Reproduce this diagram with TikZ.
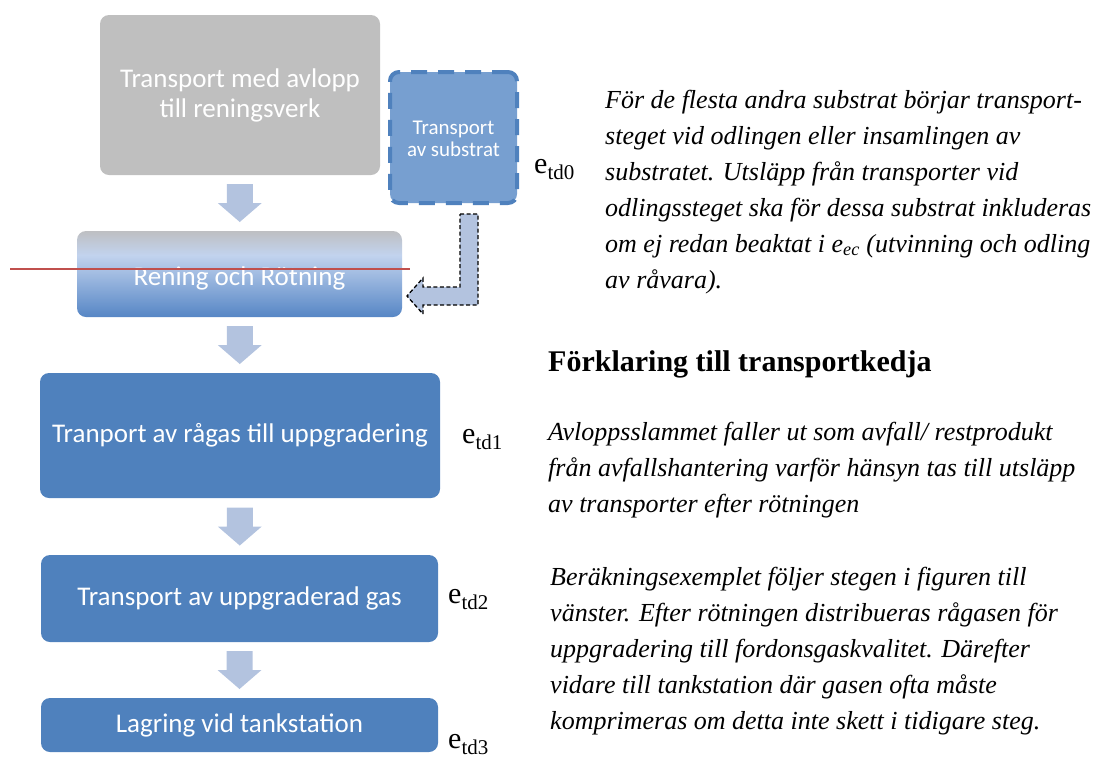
\documentclass[tikz,border=0pt]{standalone}
\usepackage{fontspec}
\setmainfont{Liberation Serif}
\newfontfamily\boxfont{Carlito}
\usetikzlibrary{calc}
\definecolor{graybox}{HTML}{BFBFBF}
\definecolor{mainblue}{HTML}{4F81BD}
\definecolor{subfill}{HTML}{779FD0}
\definecolor{arrowblue}{HTML}{B3C3DF}
\definecolor{redline}{HTML}{C0504D}
\definecolor{rb}{HTML}{5686C5}
\definecolor{rl}{HTML}{C2D3EE}
\definecolor{rg}{HTML}{BEBFC2}
\pgfdeclareverticalshading{reningshade}{100bp}{color(0bp)=(rb); color(25bp)=(rb); color(61bp)=(rl); color(75bp)=(rg); color(100bp)=(rg)}
\tikzset{
  stepbox/.style={rectangle, rounded corners=9pt, inner sep=0pt, align=center, text=white,
    font=\boxfont\fontsize{27}{30}\selectfont},
  elabel/.style={anchor=west, inner sep=0pt, font=\fontsize{30}{30}\selectfont},
  para/.style={anchor=base west, inner sep=0pt,
    font=\itshape\fontsize{26}{36}\selectfont},
  pics/blockdown/.style={code={
    \fill[arrowblue] (-13,-19) -- (13,-19) -- (13,0) -- (22,0) -- (0,19) -- (-22,0) -- (-13,0) -- cycle;}}
}
\begin{document}
\begin{tikzpicture}[x=1pt, y=-1pt]
\useasboundingbox (0,0) rectangle (1094,761);
% boxes
\node[stepbox, fill=graybox, minimum width=280, minimum height=160] (g) at (240,95)
  {Transport med avlopp\\till reningsverk};
\node[stepbox, fill=subfill, draw=mainblue, line width=4pt, dash pattern=on 16pt off 11pt,
  minimum width=127, minimum height=131, font=\boxfont\fontsize{21}{23}\selectfont] (s) at (453.5,137.5)
  {\raisebox{-3pt}[\height][\depth]{\begin{tabular}{@{}c@{}}Transport\\[-1pt]av substrat\end{tabular}}};
\node[stepbox, shade, shading=reningshade, minimum width=325, minimum height=86] (r) at (239.5,274)
  {\raisebox{-4pt}[\height][\depth]{Rening och Rötning}};
\node[stepbox, fill=mainblue, minimum width=400, minimum height=125] (t1) at (240,435.5)
  {Tranport av rågas till uppgradering};
\node[stepbox, fill=mainblue, minimum width=397, minimum height=87] (t2) at (239.5,598.5)
  {Transport av uppgraderad gas};
\node[stepbox, fill=mainblue, minimum width=397, minimum height=54] (t3) at (239.5,725)
  {Lagring vid tankstation};
% red line
\coordinate (rl0) at (10,269);
\coordinate (rl1) at (410,269);
\draw[redline, line width=2pt] (rl0) -- (rl1);
% down arrows
\pic at ($(g.south)!0.5!(r.north)$) {blockdown};
\pic at ($(r.south)!0.5!(t1.north)$) {blockdown};
\pic at ($(t1.south)!0.5!(t2.north)$) {blockdown};
\pic at ($(t2.south)!0.5!(t3.north)$) {blockdown};
% bent arrow from substrate box to Rening
\draw[black, fill=arrowblue, line width=1.3pt, dash pattern=on 4pt off 2.5pt]
  (460,214) -- (478,214) -- (478,305) -- (423,305) -- (423,314) -- (407,296)
  -- (423,278) -- (423,287) -- (460,287) -- cycle;
% e labels
\node[elabel] (e0) at (534,170) {e\textsubscript{td0}};
\node[elabel] (e1) at (462,440) {e\textsubscript{td1}};
\node[elabel] (e2) at (448,600) {e\textsubscript{td2}};
\node[elabel] (e3) at (448,745) {e\textsubscript{td3}};
% right text
\node[para] (p1) at (605,108) {\begin{tabular}[t]{@{}l@{}}För de flesta andra substrat börjar transport-\\
steget vid odlingen eller insamlingen av\\
substratet. Utsläpp från transporter vid\\
odlingssteget ska för dessa substrat inkluderas\\
om ej redan beaktat i e\textsubscript{ec} (utvinning och odling\\
av råvara).\end{tabular}};
\node[anchor=base west, inner sep=0pt, font=\bfseries\fontsize{30}{30}\selectfont] (h) at (548,371)
  {Förklaring till transportkedja};
\node[para] (p2) at (548,440) {\begin{tabular}[t]{@{}l@{}}Avloppsslammet faller ut som avfall/ restprodukt\\
från avfallshantering varför hänsyn tas till utsläpp\\
av transporter efter rötningen\end{tabular}};
\node[para] (p3) at (550,585) {\begin{tabular}[t]{@{}l@{}}Beräkningsexemplet följer stegen i figuren till\\
vänster. Efter rötningen distribueras rågasen för\\
uppgradering till fordonsgaskvalitet. Därefter\\
vidare till tankstation där gasen ofta måste\\
komprimeras om detta inte skett i tidigare steg.\end{tabular}};
\end{tikzpicture}
\end{document}
